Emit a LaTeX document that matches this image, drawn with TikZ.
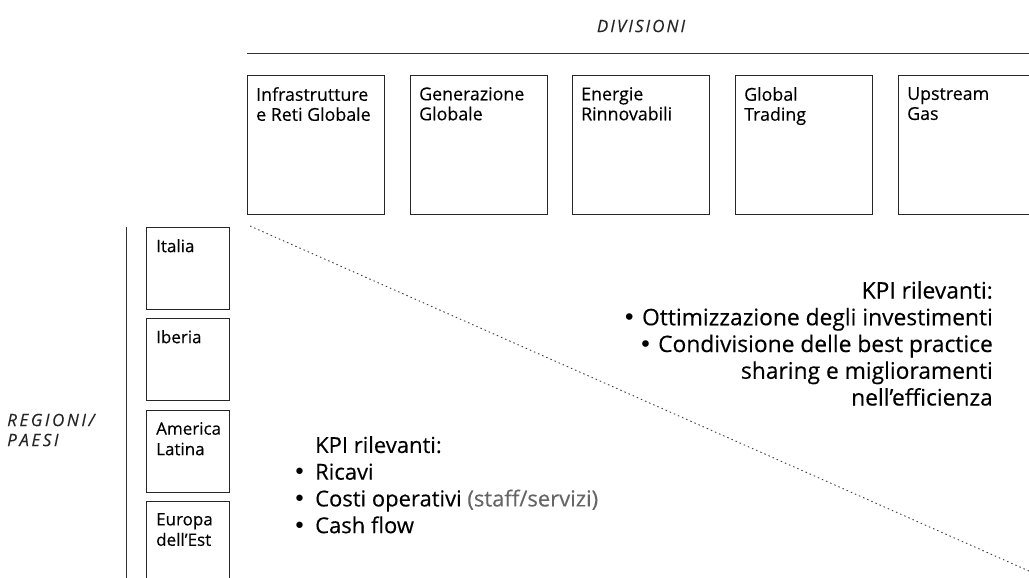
\documentclass[tikz,border=0pt]{standalone}
\usepackage{fontspec}
\setmainfont[FakeBold=0.25]{Open Sans}
\setsansfont{Open Sans}
\newfontfamily\headA[LetterSpace=12,FakeBold=0.2]{Open Sans}
\newfontfamily\headB[LetterSpace=15,FakeBold=0.2]{Open Sans}
\newfontfamily\bulfont{DejaVu Sans}
\newcommand{\kbul}{{\bulfont •}}
\tikzset{
  dbox/.style={draw=black!85, line width=1.3pt, minimum width=137pt, minimum height=139pt, anchor=north west, inner sep=0pt},
  rbox/.style={draw=black!85, line width=1.3pt, minimum width=83pt, minimum height=82pt, anchor=north west, inner sep=0pt},
  lbl/.style={anchor=north west, inner sep=0pt, align=left, font=\fontsize{17.8}{20}\selectfont, text=black},
  rlbl/.style={lbl, font=\fontsize{17}{20.5}\selectfont},
  headd/.style={inner sep=0pt, font=\headA\fontsize{17}{20}\selectfont\itshape, text=black!85},
  headr/.style={inner sep=0pt, font=\headB\fontsize{17}{20}\selectfont\itshape, text=black!85},
  kpi/.style={inner sep=0pt, font=\fontsize{22}{26.75}\selectfont, text=black},
  kpir/.style={kpi, font=\fontsize{22.8}{26.75}\selectfont},
  axis/.style={draw=black!80, line width=1pt},
  diag/.style={draw=black!75, line width=0.9pt, dash pattern=on 1.5pt off 3pt}
}
\begin{document}
\begin{tikzpicture}[x=1pt, y=-1pt]
\useasboundingbox (0,0) rectangle (1029,578);
\clip (0,0) rectangle (1029,578);
\fill[white] (0,0) rectangle (1029,578);

% headings
\node[headd] (hdiv) at (641,26) {DIVISIONI};
\node[headr, anchor=west, align=left] (hreg) at (7,430) {REGIONI/\\PAESI};

% axes
\coordinate (tl0) at (247,54);
\coordinate (tl1) at (1035,54);
\draw[axis] (tl0) -- (tl1);
\coordinate (vl0) at (126,227);
\coordinate (vl1) at (126,585);
\draw[axis] (vl0) -- (vl1);

% division boxes
\node[dbox] (d1) at (247,75) {};
\node[dbox] (d2) at (410,75) {};
\node[dbox] (d3) at (572,75) {};
\node[dbox] (d4) at (735,75) {};
\node[dbox] (d5) at (898,75) {};
\node[lbl] (d1t) at ([shift={(9,12)}]d1.north west) {Infrastrutture\\e Reti Globale};
\node[lbl] (d2t) at ([shift={(9,12)}]d2.north west) {Generazione\\Globale};
\node[lbl] (d3t) at ([shift={(9,12)}]d3.north west) {Energie\\Rinnovabili};
\node[lbl] (d4t) at ([shift={(9,12)}]d4.north west) {Global\\Trading};
\node[lbl] (d5t) at ([shift={(9,12)}]d5.north west) {Upstream\\Gas};

% region boxes
\node[rbox] (r1) at (146,227) {};
\node[rbox] (r2) at (146,318) {};
\node[rbox] (r3) at (146,410) {};
\node[rbox] (r4) at (146,501) {};
\node[rlbl] (r1t) at ([shift={(10,12)}]r1.north west) {Italia};
\node[rlbl] (r2t) at ([shift={(10,12)}]r2.north west) {Iberia};
\node[rlbl] (r3t) at ([shift={(10,12)}]r3.north west) {America\\Latina};
\node[rlbl] (r4t) at ([shift={(10,12)}]r4.north west) {Europa\\dell'Est};

% diagonal
\coordinate (g0) at (250,226);
\coordinate (g1) at (1029,571);
\draw[diag] (g0) -- (g1);

% KPI blocks
\node[kpir, anchor=north east, align=right] (kr) at (993,281) {KPI rilevanti:\\\kbul{} Ottimizzazione degli investimenti\\\kbul{} Condivisione delle best practice\\sharing e miglioramenti\\nell'efficienza};
\node[kpi, anchor=north west] (kl) at (293,434) {\begin{tabular}{@{}l@{\hspace{9pt}}l@{}}
 & KPI rilevanti:\\
\kbul & Ricavi\\
\kbul & Costi operativi {\color{black!60}(staff/servizi)}\\
\kbul & Cash flow
\end{tabular}};
\end{tikzpicture}
\end{document}
